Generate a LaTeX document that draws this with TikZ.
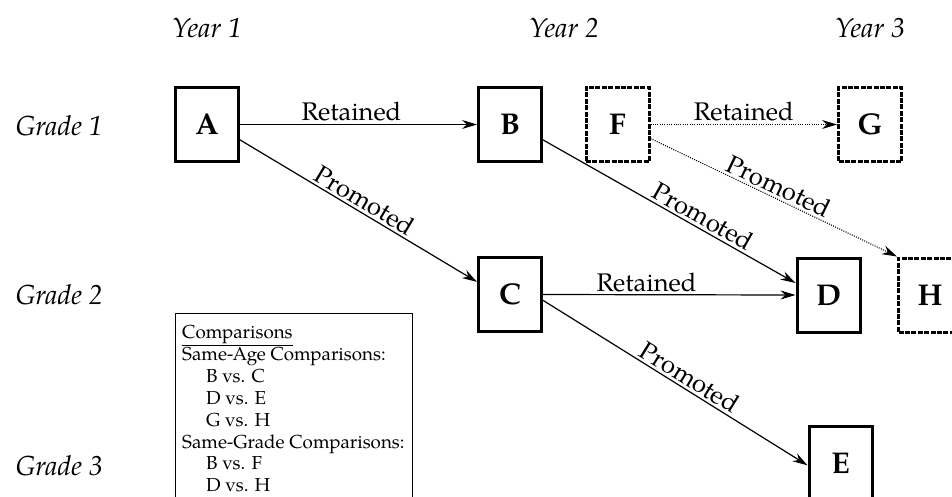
\documentclass[tikz,border=0pt]{standalone}
\usepackage{fontspec}
\setmainfont{TeX Gyre Pagella}
\usetikzlibrary{arrows.meta,calc}
\begin{document}
\begin{tikzpicture}[x=1pt,y=-1pt,
  box/.style={draw,line width=3pt,minimum width=63pt,minimum height=74pt,inner sep=0pt,font=\fontsize{30}{33}\selectfont\bfseries},
  dbox/.style={box,dash pattern=on 5pt off 1.4pt},
  arr/.style={line width=1.2pt,-{Stealth[length=15pt,width=9pt]}},
  darr/.style={line width=1.1pt,dash pattern=on 1pt off 1.3pt,-{Stealth[length=15pt,width=9pt]}},
  lbl/.style={font=\fontsize{25.5}{28}\selectfont,inner sep=2.5pt},
  hdr/.style={font=\fontsize{27.5}{30}\selectfont\itshape}
]
\useasboundingbox (0,0) rectangle (952,496);
% headers
\node[hdr] (y1) at (207,28) {Year 1};
\node[hdr] (y2) at (564,28) {Year 2};
\node[hdr] (y3) at (870,28) {Year 3};
\node[hdr,anchor=west] (g1) at (12,126) {Grade 1};
\node[hdr,anchor=west] (g2) at (12,295) {Grade 2};
\node[hdr,anchor=west] (g3) at (12,466) {Grade 3};
% boxes
\node[box]  (A) at (207,124.5) {A};
\node[box]  (B) at (510,124.5) {B};
\node[dbox] (F) at (617.5,124.5) {F};
\node[dbox] (G) at (870,124.5) {G};
\node[box]  (C) at (510,294.5) {C};
\node[box]  (D) at (828.5,295) {D};
\node[dbox] (H) at (930,295) {H};
\node[box]  (E) at (840.5,463) {E};
% connectors
\draw[arr] (A.east) -- node[lbl,above,pos=0.47] {Retained} (B.west);
\draw[arr] (A.-25) -- node[lbl,above,sloped,midway] {Promoted} (C.159);
\draw[arr] (B.-25) -- node[lbl,above,sloped,pos=0.61] {Promoted} (D.160);
\draw[arr] (C.east) -- node[lbl,above,pos=0.41] {Retained} (D.west);
\draw[arr] (C.-10) -- node[lbl,above,sloped,pos=0.53] {Promoted} (E.-176);
\draw[darr] (F.east) -- node[lbl,above,midway] {Retained} (G.west);
\draw[darr] (F.-23) -- node[lbl,above,sloped,midway] {Promoted} (H.north west);
% comparisons
\node[draw,line width=1.3pt,anchor=north west,minimum width=237pt,minimum height=200pt,inner sep=0pt] (cmpbox) at (175,313) {};
\node[anchor=north west,align=left,inner sep=0pt,font=\fontsize{18.8}{21.9}\selectfont] (cmptext) at (182,325)
 {\underline{Comparisons}\\
  Same-Age Comparisons:\\
  \hspace*{24pt}B vs. C\\
  \hspace*{24pt}D vs. E\\
  \hspace*{24pt}G vs. H\\
  Same-Grade Comparisons:\\
  \hspace*{24pt}B vs. F\\
  \hspace*{24pt}D vs. H};
\end{tikzpicture}
\end{document}
